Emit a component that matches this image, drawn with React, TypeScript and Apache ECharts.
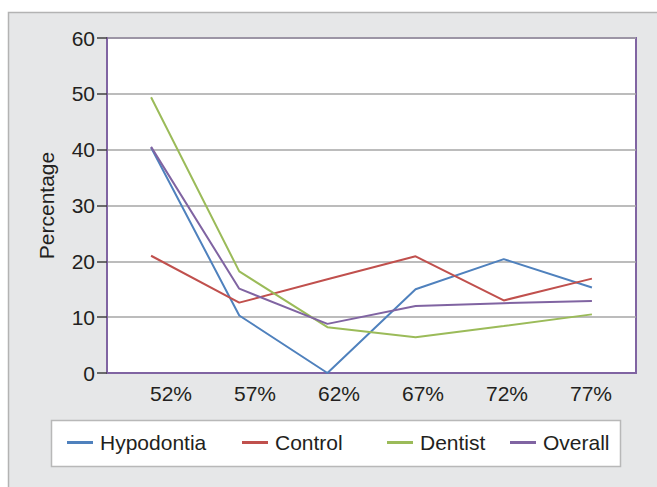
import React, { useEffect, useRef } from "react";
import * as echarts from "echarts";

const categories = ["52%", "57%", "62%", "67%", "72%", "77%"];
const hypodontia = [40.4, 10.3, 0, 15.0, 20.4, 15.3];
const control = [21.0, 12.6, 16.8, 20.9, 13.0, 16.9];
const dentist = [49.4, 18.2, 8.2, 6.4, 8.4, 10.5];
const overall = [40.5, 15.1, 8.8, 12.0, 12.5, 12.9];
const seriesNames = ["Hypodontia", "Control", "Dentist", "Overall"];
const seriesColors = ["#4f81bd", "#c0504d", "#9bbb59", "#8064a2"];
const yTicks = { min: 0, max: 60, interval: 10 };

export default function App() {
  const ref = useRef<HTMLDivElement>(null);
  useEffect(() => {
    if (!ref.current) return;
    const chart = echarts.init(ref.current, null, { renderer: "svg" });
    const font = "Liberation Sans, Arial, Helvetica, sans-serif";
    const textColor = "#231f20";
    const dataSets = [hypodontia, control, dentist, overall];
    const legendLefts = [67, 242, 387, 510];
    chart.setOption({
      animation: false,
      backgroundColor: "#ffffff",
      textStyle: { fontFamily: font },
      graphic: [
        {
          type: "rect",
          z: -100,
          shape: { x: 8.5, y: 12.5, width: 700, height: 500 },
          style: { fill: "#e6e7e8", stroke: "#b3b3b3", lineWidth: 1.5 },
        },
        {
          type: "rect",
          z: 1,
          shape: { x: 51.5, y: 420.5, width: 569, height: 46 },
          style: { fill: "#ffffff", stroke: "#b8b8b8", lineWidth: 1.5 },
        },
      ],
      grid: [
        {
          left: 107,
          top: 38,
          right: 21,
          bottom: 114,
          show: true,
          backgroundColor: "#ffffff",
          borderColor: "#8064a2",
          borderWidth: 2,
        },
        {
          left: 129,
          top: 38,
          right: 24,
          bottom: 114,
          show: false,
        },
      ],
      legend: seriesNames.map((name, i) => ({
        data: [name],
        left: legendLefts[i],
        top: 432,
        itemWidth: 26,
        itemHeight: 3,
        icon: "rect",
        padding: 0,
        itemGap: 0,
        textStyle: { fontSize: 21, color: textColor, fontFamily: font, padding: [0, 0, 0, 2] },
      })),
      xAxis: [
        {
          type: "category",
          gridIndex: 0,
          data: categories,
          boundaryGap: true,
          axisLine: { show: true, lineStyle: { color: "#8064a2", width: 2 } },
          axisTick: { show: false },
          axisLabel: { show: false },
          splitLine: { show: false },
        },
        {
          type: "category",
          gridIndex: 1,
          data: categories,
          boundaryGap: true,
          axisLine: { show: false },
          axisTick: { show: false },
          axisLabel: { fontSize: 21, color: textColor, margin: 10, fontFamily: font },
          splitLine: { show: false },
        },
      ],
      yAxis: [
        {
          type: "value",
          gridIndex: 0,
          min: yTicks.min,
          max: yTicks.max,
          interval: yTicks.interval,
          name: "Percentage",
          nameLocation: "middle",
          nameGap: 50,
          nameTextStyle: { fontSize: 21, color: textColor, fontFamily: font },
          axisLine: { show: true, lineStyle: { color: "#8064a2", width: 2 } },
          axisTick: { show: true, length: 10, lineStyle: { color: "#404040", width: 1.5 } },
          axisLabel: { fontSize: 21, color: textColor, margin: 12, fontFamily: font },
          splitLine: { show: true, lineStyle: { color: "#a6a6a6", width: 1.5 } },
        },
        {
          type: "value",
          gridIndex: 1,
          min: yTicks.min,
          max: yTicks.max,
          show: false,
        },
      ],
      series: seriesNames.map((name, i) => ({
        name,
        type: "line",
        xAxisIndex: 0,
        yAxisIndex: 0,
        data: dataSets[i],
        symbol: "none",
        showSymbol: false,
        lineStyle: { color: seriesColors[i], width: 2 },
        itemStyle: { color: seriesColors[i] },
      })),
    });
    return () => chart.dispose();
  }, []);
  return (
    <div
      ref={ref}
      style={{ position: "fixed", left: 0, top: 0, width: 657, height: 487 }}
    />
  );
}
